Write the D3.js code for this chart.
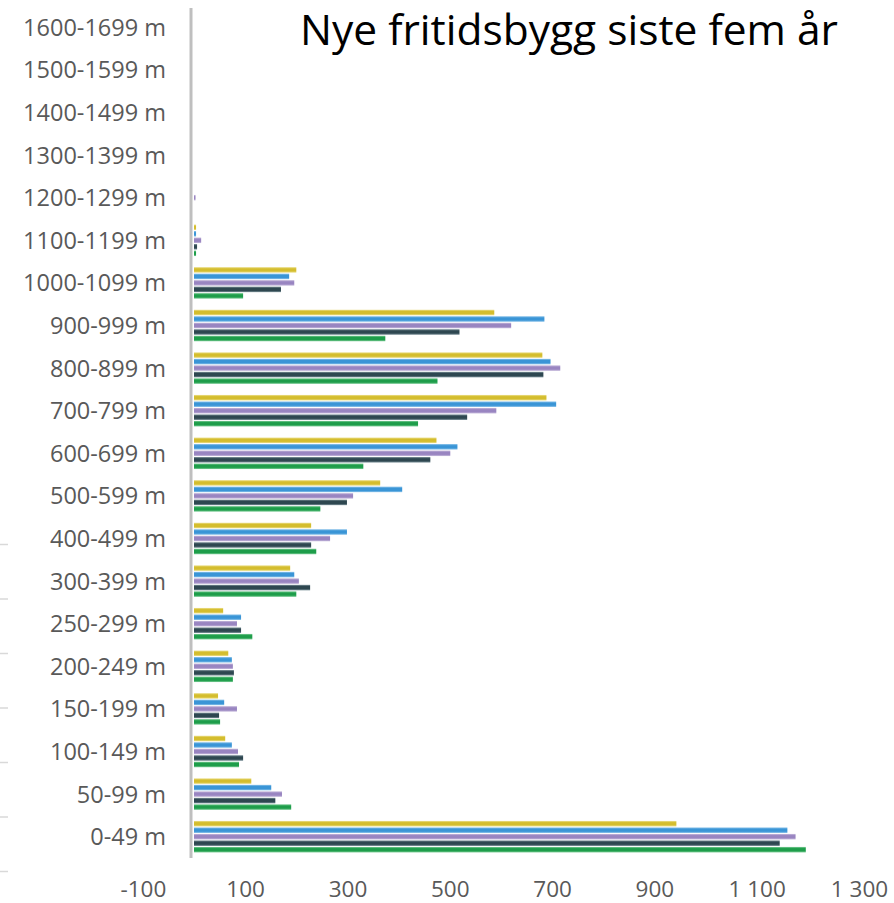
<!DOCTYPE html>
<html><head><meta charset="utf-8">
<script src="https://cdn.jsdelivr.net/npm/d3@7/dist/d3.min.js"></script>
<style>
html,body{margin:0;padding:0;background:#fff;}
text{font-family:"Open Sans",sans-serif;}
</style></head>
<body>
<svg id="chart" width="894" height="903"></svg>
<script>
const categories = ["0-49 m","50-99 m","100-149 m","150-199 m","200-249 m","250-299 m","300-399 m","400-499 m","500-599 m","600-699 m","700-799 m","800-899 m","900-999 m","1000-1099 m","1100-1199 m","1200-1299 m","1300-1399 m","1400-1499 m","1500-1599 m","1600-1699 m"];
const seriesNames = ["Serie 1","Serie 2","Serie 3","Serie 4","Serie 5"];
const yellowValues = [943,112,61,47,67,57,188,229,364,474,689,681,587,200,4,0,0,0,0,0];
const blueValues   = [1160,151,74,59,74,92,196,299,407,515,708,697,685,186,4,0,0,0,0,0];
const purpleValues = [1176,172,86,84,76,84,205,266,311,501,591,716,620,196,14,3,0,0,0,0];
const darkValues   = [1145,159,96,49,78,92,227,229,299,462,534,683,519,170,6,0,0,0,0,0];
const greenValues  = [1196,190,88,51,76,114,200,239,247,331,438,476,374,96,4,0,0,0,0,0];
const xTicks = [-100,100,300,500,700,900,1100,1300];
const title = "Nye fritidsbygg siste fem år";

const seriesValues = [yellowValues, blueValues, purpleValues, darkValues, greenValues];
const colors = ["#d4bd2e","#3a95d6","#9985c1","#2e4750","#1e9d4a"];
const lightColors = ["#ece08e","#8cc3ea","#c7bbdc","#7c9199","#7ccc96"];

const svg = d3.select("#chart");
svg.append("rect").attr("width",894).attr("height",903).attr("fill","#fff");

const x = d3.scaleLinear().domain([0,1300]).range([194, 859]);
const y = d3.scaleBand().domain(categories.slice().reverse()).range([6, 858]).paddingInner(0).paddingOuter(0);
const inner = d3.scaleBand().domain(d3.range(5)).range([0, 31.5]).paddingInner(0.15);

// gradients
const defs = svg.append("defs");
colors.forEach((c,i)=>{
  const g = defs.append("linearGradient").attr("id","g"+i).attr("x1",0).attr("y1",0).attr("x2",0).attr("y2",1);
  g.append("stop").attr("offset","0%").attr("stop-color",lightColors[i]);
  g.append("stop").attr("offset","30%").attr("stop-color",c);
  g.append("stop").attr("offset","70%").attr("stop-color",c);
  g.append("stop").attr("offset","100%").attr("stop-color",lightColors[i]);
});

// stray left ticks
const leftTicks = d3.scaleLinear().domain([0,6]).range([544.5, 871.5]);
svg.append("g").selectAll("line").data(d3.range(7)).join("line")
  .attr("x1",0).attr("x2",8).attr("y1",d=>leftTicks(d)).attr("y2",d=>leftTicks(d))
  .attr("stroke","#d9d9d9").attr("stroke-width",1.5);

// bars
const groups = svg.append("g").selectAll("g").data(categories).join("g")
  .attr("transform", d=>`translate(0,${y(d)+y.bandwidth()/2-15.75})`);
groups.each(function(cat, ci){
  d3.select(this).selectAll("rect").data(seriesValues.map((s,si)=>({si, v:s[ci]}))).join("rect")
    .attr("x", x(0))
    .attr("y", d=>inner(d.si))
    .attr("width", d=>Math.max(0, x(d.v)-x(0)))
    .attr("height", inner.bandwidth())
    .attr("fill", d=>`url(#g${d.si})`);
});

// vertical axis line
svg.append("line").attr("x1",191).attr("x2",191).attr("y1",8).attr("y2",858)
  .attr("stroke","#bfbfbf").attr("stroke-width",3);

// y axis labels
const yAxis = svg.append("g").attr("transform","translate(191,0)")
  .call(d3.axisLeft(y).tickSize(0).tickPadding(25));
yAxis.select(".domain").remove();
yAxis.selectAll("text").attr("font-size",23.5).attr("fill","#595959").attr("font-family","'Open Sans',sans-serif").attr("dy","0.36em");

// x axis labels
const loc = d3.formatLocale({decimal:",", thousands:" ", grouping:[3], currency:["",""], minus:"-"});
const fmt = loc.format(",d");
const xAxis = svg.append("g").attr("transform","translate(0,897)")
  .call(d3.axisBottom(x).tickValues(xTicks).tickSize(0).tickPadding(0).tickFormat(fmt));
xAxis.select(".domain").remove();
xAxis.selectAll("text").attr("font-size",22.5).attr("fill","#595959").attr("font-family","'Open Sans',sans-serif").attr("y",0).attr("dy",0);

// title
svg.append("text").attr("x",838).attr("y",45).attr("text-anchor","end")
  .attr("font-size",42.5).attr("fill","#000").text(title);
</script>
</body></html>
